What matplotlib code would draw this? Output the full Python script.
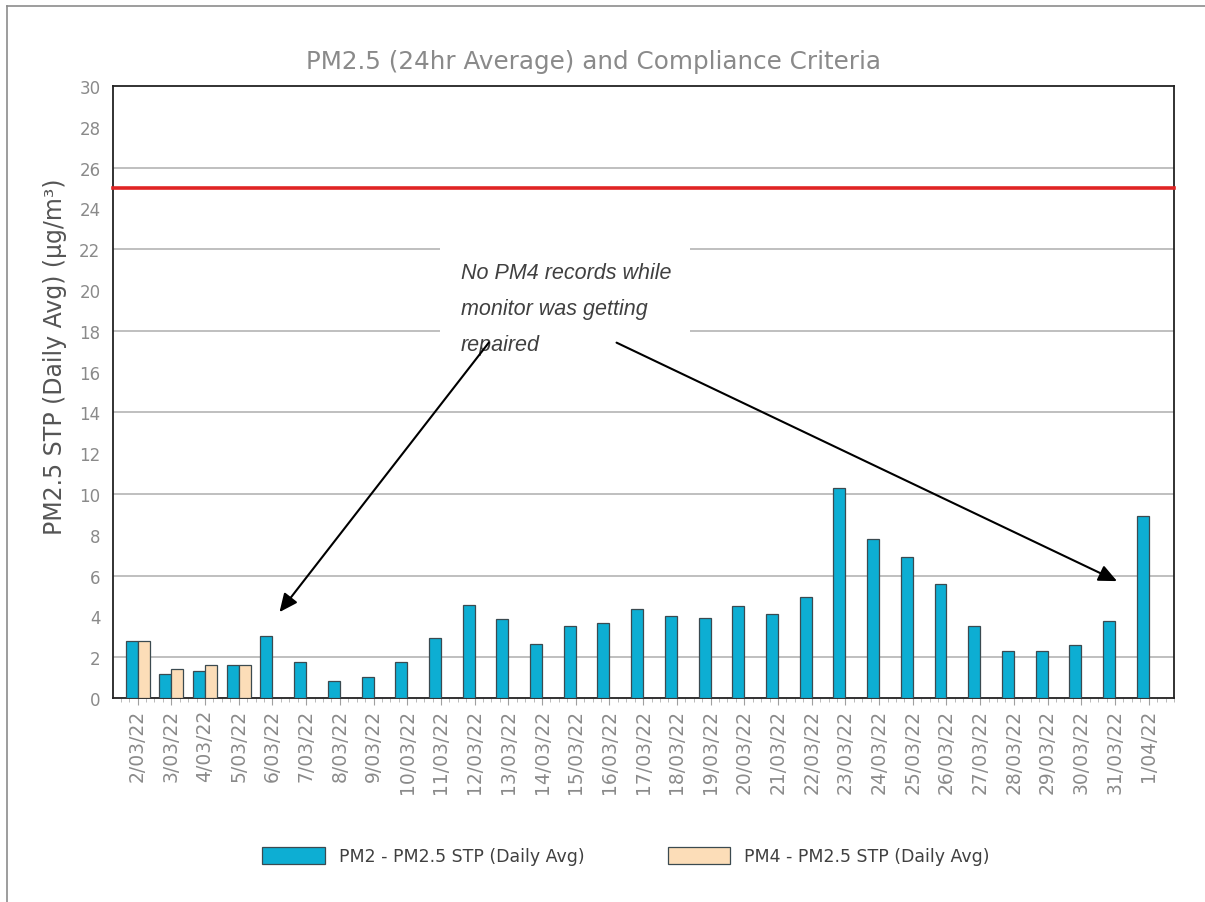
import numpy as np
import matplotlib
matplotlib.use("Agg")
import matplotlib.pyplot as plt
from matplotlib.lines import Line2D
from matplotlib.patches import Patch, Rectangle

dates = ["2/03/22", "3/03/22", "4/03/22", "5/03/22", "6/03/22", "7/03/22", "8/03/22",
         "9/03/22", "10/03/22", "11/03/22", "12/03/22", "13/03/22", "14/03/22", "15/03/22",
         "16/03/22", "17/03/22", "18/03/22", "19/03/22", "20/03/22", "21/03/22", "22/03/22",
         "23/03/22", "24/03/22", "25/03/22", "26/03/22", "27/03/22", "28/03/22", "29/03/22",
         "30/03/22", "31/03/22", "1/04/22"]
pm2 = [2.8, 1.17, 1.34, 1.62, 3.03, 1.78, 0.82, 1.04, 1.78, 2.95, 4.58, 3.85, 2.66, 3.54,
       3.70, 4.37, 4.0, 3.93, 4.52, 4.14, 4.96, 10.3, 7.8, 6.9, 5.61, 3.54, 2.3, 2.3, 2.6,
       3.78, 8.92]
pm4 = [2.8, 1.42, 1.62, 1.62] + [0.0] * 27
criteria = 25
title = "PM2.5 (24hr Average) and Compliance Criteria"
ylabel = "PM2.5 STP (Daily Avg) (µg/m³)"
series_names = ["PM2 - PM2.5 STP (Daily Avg)", "PM4 - PM2.5 STP (Daily Avg)"]
note = "No PM4 records while\nmonitor was getting\nrepaired"

W, H = 1205, 903
fig = plt.figure(figsize=(W / 100, H / 100), dpi=100)
fig.patch.set_facecolor("white")

def fx(px):
    return px / W

def fy(py):
    return 1 - py / H

# outer border (top and left)
fig.add_artist(Line2D([fx(7), 1], [fy(7), fy(7)], color="#8c8c8c", lw=1.2))
fig.add_artist(Line2D([fx(7), fx(7)], [fy(7), 0], color="#8c8c8c", lw=1.2))

ax = fig.add_axes([fx(113), fy(699), fx(1174) - fx(113), fy(87) - fy(699)])
x = np.arange(len(dates))
w = 0.355
blue = "#0DAED3"
peach = "#FCDDB8"
edge = "#3b4a50"

ax.set_xlim(-0.73, 30.66)
ax.set_ylim(0, 30)

for g in range(2, 27, 4):
    ax.axhline(g, color="#b4b4b4", lw=1.2, zorder=0)
ax.axhline(0, color="#f0b0b0", lw=1.0, zorder=1)

ax.bar(x - w / 2, pm2, width=w, color=blue, edgecolor=edge, linewidth=0.9, zorder=3,
       label=series_names[0])
ax.bar(x + w / 2, pm4, width=w, color=peach, edgecolor=edge, linewidth=0.9, zorder=3,
       label=series_names[1])

ax.axhline(criteria, color="#e02424", lw=2.6, zorder=4, clip_on=False)

for s in ax.spines.values():
    s.set_color("#222222")
    s.set_linewidth(1.3)

ax.set_yticks(np.arange(0, 31, 2))
ax.set_yticklabels([str(v) for v in range(0, 31, 2)], fontsize=12, color="#8a8a8a")
ax.tick_params(axis="y", length=0, pad=9)
ax.set_xticks(x)
ax.set_xticklabels(dates, rotation=90, fontsize=13.5, color="#8a8a8a")
ax.tick_params(axis="x", length=5, color="#a0a0a0", pad=3)
ax.set_xticks(np.arange(-0.5, 31, 0.25), minor=True)
ax.tick_params(axis="x", which="minor", length=3, color="#b0b0b0")

ax.set_ylabel(ylabel, fontsize=17, color="#555555")
ax.yaxis.set_label_coords(-0.0434, 0.559)

fig.text(fx(594), fy(62), title, fontsize=17.7, color="#8a8a8a", ha="center", va="center")

# white box behind annotation
ax.add_patch(Rectangle((8.97, 16.98), 16.4 - 8.97, 22.56 - 16.98, facecolor="white",
                       edgecolor="none", zorder=2))
ax.text(9.59, 19.09, note, fontsize=15.5, style="italic", family="Liberation Sans",
        color="#404040", va="center", ha="left", linespacing=1.95, zorder=5)

arrowprops = dict(arrowstyle="-|>,head_length=1.1,head_width=0.5", color="black", lw=1.5,
                  shrinkA=0, shrinkB=0)
ax.annotate("", xy=(4.21, 4.21), xytext=(10.42, 17.42), arrowprops=arrowprops, zorder=6)
ax.annotate("", xy=(29.06, 5.73), xytext=(14.21, 17.42), arrowprops=arrowprops, zorder=6)

handles = [Patch(facecolor=blue, edgecolor=edge, linewidth=0.9),
           Patch(facecolor=peach, edgecolor=edge, linewidth=0.9)]
fig.legend(handles, series_names, loc="center", bbox_to_anchor=(fx(626), fy(857)), ncol=2,
           frameon=False, fontsize=12.5, handlelength=3.6, handleheight=1.1,
           columnspacing=4.8, labelcolor="#404040")

fig.savefig("out.png", dpi=100)
